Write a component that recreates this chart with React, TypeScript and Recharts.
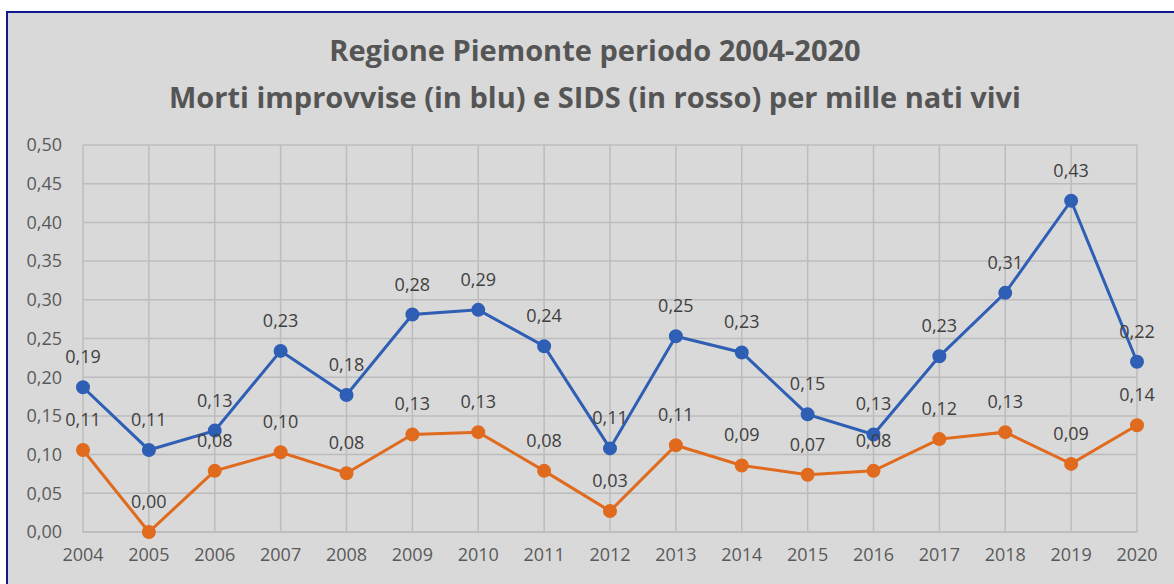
import React from 'react';
import { LineChart, Line, XAxis, YAxis, CartesianGrid, LabelList } from 'recharts';

const YEARS = ['2004', '2005', '2006', '2007', '2008', '2009', '2010', '2011', '2012', '2013', '2014', '2015', '2016', '2017', '2018', '2019', '2020'];
const MORTI_IMPROVVISE = [0.187, 0.106, 0.131, 0.234, 0.177, 0.281, 0.287, 0.240, 0.108, 0.253, 0.232, 0.152, 0.126, 0.227, 0.309, 0.428, 0.220];
const SIDS = [0.106, 0.0, 0.079, 0.103, 0.076, 0.126, 0.129, 0.079, 0.027, 0.112, 0.086, 0.074, 0.079, 0.120, 0.129, 0.088, 0.138];
const Y_TICKS = [0, 0.05, 0.1, 0.15, 0.2, 0.25, 0.3, 0.35, 0.4, 0.45, 0.5];

const TITLE_1 = 'Regione Piemonte periodo 2004-2020';
const TITLE_2 = 'Morti improvvise (in blu) e SIDS (in rosso) per mille nati vivi';

const BLUE = '#2f5eb5';
const ORANGE = '#e06a1e';
const FONT = 'Open Sans, "Noto Sans", sans-serif';

const data = YEARS.map((year, i) => ({ year, morti: MORTI_IMPROVVISE[i], sids: SIDS[i] }));

const fmt = (v: any) => Number(v).toFixed(2).replace('.', ',');

export default function App() {
  return (
    <div style={{ position: 'absolute', left: 0, top: 0, width: 1174, height: 584, overflow: 'hidden', background: '#fff', fontFamily: FONT }}>
      <div
        style={{
          position: 'absolute', left: 6, top: 11, width: 1220, height: 620,
          borderLeft: '2px solid #101a8c', borderTop: '2px solid #101a8c', background: '#d9d9d9',
        }}
      />
      <div style={{ position: 'absolute', left: 0, top: 26, width: 1190, textAlign: 'center', color: '#555555', fontWeight: 700, fontSize: 29, lineHeight: '47px' }}>
        <div>{TITLE_1}</div>
        <div>{TITLE_2}</div>
      </div>
      <div style={{ position: 'absolute', left: 0, top: 0 }}>
        <LineChart width={1174} height={584} data={data} margin={{ top: 145, right: 37, bottom: 22, left: 0 }}>
          <CartesianGrid stroke="#bcbcbc" strokeWidth={1.5} />
          <XAxis
            dataKey="year"
            axisLine={{ stroke: '#bcbcbc', strokeWidth: 1.5 }}
            tickLine={false}
            tickSize={0}
            tickMargin={16}
            height={30}
            interval={0}
            tick={{ fill: '#595959', fontSize: 18, fontFamily: FONT }}
          />
          <YAxis
            domain={[0, 0.5]}
            ticks={Y_TICKS}
            tickFormatter={fmt}
            axisLine={false}
            tickLine={false}
            tickSize={0}
            tickMargin={21}
            width={83}
            tick={{ fill: '#595959', fontSize: 18, fontFamily: FONT }}
          />
          <Line dataKey="morti" stroke={BLUE} strokeWidth={3} dot={{ r: 5.5, fill: BLUE, stroke: BLUE }} isAnimationActive={false}>
            <LabelList dataKey="morti" position="top" offset={24} formatter={fmt} fill="#404040" fontSize={18} fontFamily={FONT} />
          </Line>
          <Line dataKey="sids" stroke={ORANGE} strokeWidth={3} dot={{ r: 5.5, fill: ORANGE, stroke: ORANGE }} isAnimationActive={false}>
            <LabelList dataKey="sids" position="top" offset={24} formatter={fmt} fill="#404040" fontSize={18} fontFamily={FONT} />
          </Line>
        </LineChart>
      </div>
    </div>
  );
}
